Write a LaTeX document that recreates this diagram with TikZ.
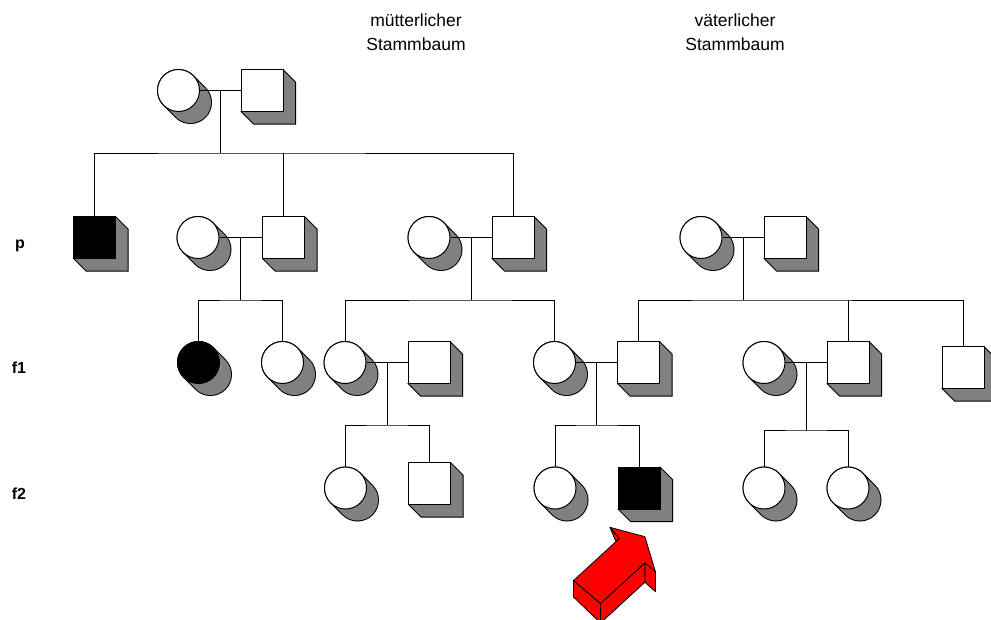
\documentclass[tikz,border=0pt]{standalone}
\usepackage{fontspec}
\setmainfont{Liberation Sans}
\usetikzlibrary{calc}
\definecolor{shadowgray}{RGB}{128,128,128}
\definecolor{arrowred}{RGB}{255,0,0}

\tikzset{
  link/.style={line width=1pt, draw=black},
  femalebox/.style={circle, draw=black, line width=1pt, minimum size=42pt, inner sep=0pt, fill=white},
  malebox/.style={rectangle, draw=black, line width=1pt, minimum size=42pt, inner sep=0pt, fill=white},
  gen/.style={font=\bfseries\fontsize{16}{18}\selectfont, anchor=base, inner sep=0pt},
  heading/.style={font=\fontsize{17.5}{24}\selectfont, align=center, inner sep=0pt},
  face/.style={fill=arrowred, draw=black, line width=0.8pt, line join=round},
}

% circle with an extruded (cylinder) shadow towards the lower right
\newcommand\femalenode[4]{%
  \draw[line width=43pt, line cap=round, black] (#2,#3) -- ++(12,12);
  \draw[line width=41pt, line cap=round, shadowgray] (#2,#3) -- ++(12,12);
  \node[femalebox, fill=#4] (#1) at (#2,#3) {};}

% square with an extruded (box) shadow towards the lower right
\newcommand\malenode[4]{%
  \filldraw[fill=shadowgray, draw=black, line width=1pt, line join=miter]
    ({#2+21},{#3-21}) -- ++(12.5,12.5) -- ++(0,42) -- ++(-42,0) -- ({#2-21},{#3+21}) -- cycle;
  \node[malebox, fill=#4] (#1) at (#2,#3) {};}

\begin{document}
\begin{tikzpicture}[x=1pt, y=-1pt]
\useasboundingbox (0,0) rectangle (991,619);

% headings
\node[heading] (hm) at (416,32) {mütterlicher\\Stammbaum};
\node[heading] (hv) at (735,32) {väterlicher\\Stammbaum};

% generation labels
\node[gen] (lp)  at (20,248) {p};
\node[gen] (lf1) at (19,373) {f1};
\node[gen] (lf2) at (19,499) {f2};

% grandparents
\femalenode{tf}{178.5}{90.5}{white}
\malenode{tm}{262}{90.5}{white}

% generation p
\malenode{p1}{94.5}{237.5}{black}
\femalenode{p2f}{198}{237.5}{white}
\malenode{p2m}{283.5}{237.5}{white}
\femalenode{p3f}{429}{237.5}{white}
\malenode{p3m}{513}{237.5}{white}
\femalenode{p4f}{701}{237.5}{white}
\malenode{p4m}{785}{237.5}{white}

% generation f1
\femalenode{f1a}{198.5}{362.5}{black}
\femalenode{f1b}{282.5}{362.5}{white}
\femalenode{f1c}{345}{362.5}{white}
\malenode{f1d}{429}{362.5}{white}
\femalenode{f1e}{554.5}{362.5}{white}
\malenode{f1f}{638.5}{362.5}{white}
\femalenode{f1g}{764}{362.5}{white}
\malenode{f1h}{848}{362.5}{white}
\malenode{f1i}{963}{367.5}{white}

% generation f2
\femalenode{f2a}{345.5}{488}{white}
\malenode{f2b}{429.5}{483.5}{white}
\femalenode{f2c}{555}{488}{white}
\malenode{f2d}{639}{488}{black}
\femalenode{f2e}{764}{488}{white}
\femalenode{f2f}{848}{488}{white}

% partnerships and descent lines
\draw[link] (tf.east) -- coordinate (k0) (tm.west);
\draw[link] (k0) -- (k0 |- 0,153) coordinate (j0);
\draw[link] (p1.north) |- (j0) -| (p3m.north);
\draw[link] (p2m.north) -- (p2m.north |- j0);

\draw[link] (p2f.east) -- coordinate (k1) (p2m.west);
\draw[link] (k1) -- (k1 |- 0,300) coordinate (j1);
\draw[link] (f1a.north) |- (j1) -| (f1b.north);

\draw[link] (p3f.east) -- coordinate (k2) (p3m.west);
\draw[link] (k2) -- (k2 |- 0,300) coordinate (j2);
\draw[link] (f1c.north) |- (j2) -| (f1e.north);

\draw[link] (p4f.east) -- coordinate (k3) (p4m.west);
\draw[link] (k3) -- (k3 |- 0,300) coordinate (j3);
\draw[link] (f1f.north) |- (j3) -| (f1i.north);
\draw[link] (f1h.north) -- (f1h.north |- j3);

\draw[link] (f1c.east) -- coordinate (k4) (f1d.west);
\draw[link] (k4) -- (k4 |- 0,425) coordinate (j4);
\draw[link] (f2a.north) |- (j4) -| (f2b.north);

\draw[link] (f1e.east) -- coordinate (k5) (f1f.west);
\draw[link] (k5) -- (k5 |- 0,425) coordinate (j5);
\draw[link] (f2c.north) |- (j5) -| (f2d.north);

\draw[link] (f1g.east) -- coordinate (k6) (f1h.west);
\draw[link] (k6) -- (k6 |- 0,430) coordinate (j6);
\draw[link] (f2e.north) |- (j6) -| (f2f.north);

% 3D pointer arrow: side faces first, then the top face
\filldraw[face] (573.5,580.5) -- (600.5,603.5) -- (600.5,623) -- (573.5,597) -- cycle;
\filldraw[face] (600.5,603.5) -- (644.9,562.9) -- (644.9,582.2) -- (600.5,623) -- cycle;
\filldraw[face] (644.9,562.9) -- (655.4,571.7) -- (655.4,591.6) -- (644.9,582.2) -- cycle;
\filldraw[face] (609.9,527.3) -- (615.8,541.3) -- (619.4,538.5) -- cycle;
\filldraw[face] (573.5,580.5) -- (619.4,538.5) -- (609.9,527.3) -- (644.9,536.7)
  -- (655.4,571.7) -- (644.9,562.9) -- (600.5,603.5) -- cycle;
\end{tikzpicture}
\end{document}
